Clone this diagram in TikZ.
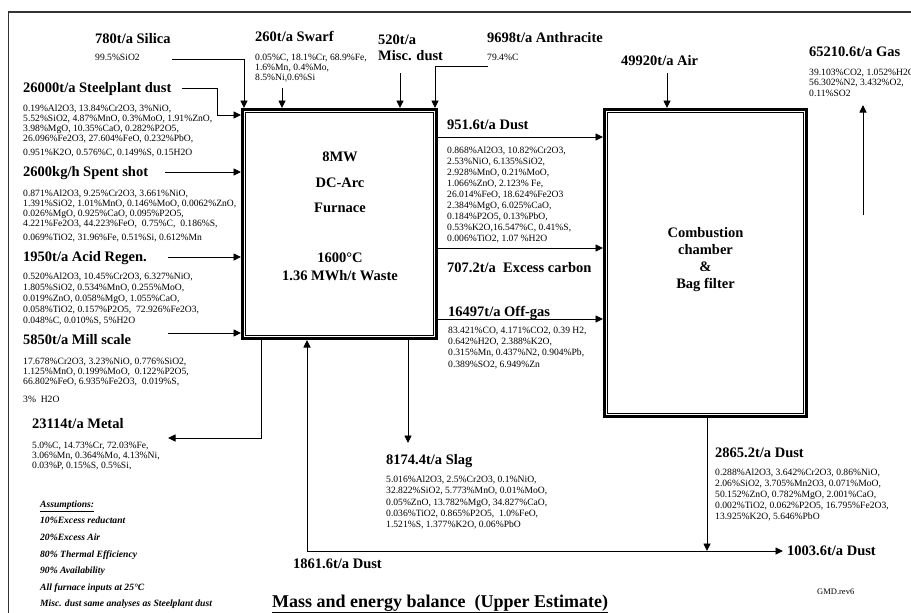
\documentclass[tikz,border=0pt]{standalone}
\usepackage{fontspec}
\setmainfont{Liberation Serif}
\usetikzlibrary{arrows.meta}
\tikzset{
  ttl/.style={font=\fontsize{14.5}{15.5}\selectfont\bfseries, anchor=base west, inner sep=0pt},
  ftxt/.style={font=\fontsize{14.5}{15.5}\selectfont\bfseries, anchor=base, inner sep=0pt},
  comp/.style={font=\fontsize{9.6}{#1}\selectfont, anchor=north west, align=left, inner sep=0pt},
  comp/.default=10.5,
  asm/.style={font=\fontsize{9.6}{16.6}\selectfont\bfseries\itshape, anchor=north west, align=left, inner sep=0pt},
  boxo/.style={draw, line width=2.6pt, inner sep=0pt},
  boxi/.style={draw, line width=0.8pt, inner sep=0pt},
  flow/.style={draw, line width=0.9pt, -{Triangle[length=7.5pt,width=7pt]}},
}
\begin{document}
\begin{tikzpicture}[x=1pt,y=-1pt]
\useasboundingbox (0,0) rectangle (911,613);
\fill[white] (0,0) rectangle (911,613);
% outer frame
\coordinate (frA) at (911,12);
\coordinate (frB) at (8.5,12);
\coordinate (frC) at (8.5,613);
\draw[line width=1.2pt, black!80] (frA) -- (frB) -- (frC);

% boxes
\node[boxo, minimum width=194.4, minimum height=229.4] (furn) at (339.5,224) {};
\node[boxi, minimum width=187.6, minimum height=222.6] (furnin) at (339.5,224) {};
\node[boxo, minimum width=202.4, minimum height=307.4] (comb) at (705.5,263) {};
\node[boxi, minimum width=195.6, minimum height=300.6] (combin) at (705.5,263) {};

% furnace text
\node[ftxt] (f1) at (340,161.9) {8MW};
\node[ftxt] (f2) at (340,187.9) {DC-Arc};
\node[ftxt] (f3) at (340,212.9) {Furnace};
\node[ftxt] (f4) at (340,262.9) {1600°C};
\node[ftxt] (f5) at (340,280.9) {1.36 MWh/t Waste};

% combustion text
\node[ftxt] (c1) at (705.5,237) {Combustion};
\node[ftxt] (c2) at (705.5,254) {chamber};
\node[ftxt] (c3) at (705.5,271) {\&};
\node[ftxt] (c4) at (705.5,288) {Bag filter};

% inputs
\node[ttl] (silT) at (95,43.9) {780t/a Silica};
\node[comp, anchor=base west] (silC) at (95,60.3) {99.5\%SiO2};
\node[ttl] (stlT) at (23,92.9) {26000t/a Steelplant dust};
\node[comp=10] (stlC) at (23,104.8) {0.19\%Al2O3, 13.84\%Cr2O3, 3\%NiO,\\
5.52\%SiO2, 4.87\%MnO, 0.3\%MoO, 1.91\%ZnO,\\
3.98\%MgO, 10.35\%CaO, 0.282\%P2O5,\\
26.096\%Fe2O3, 27.604\%FeO, 0.232\%PbO,\\[4pt]
0.951\%K2O, 0.576\%C, 0.149\%S, 0.15H2O};
\node[ttl] (swfT) at (255,41.9) {260t/a Swarf};
\node[comp=10] (swfC) at (255,53.8) {0.05\%C, 18.1\%Cr, 68.9\%Fe,\\
1.6\%Mn, 0.4\%Mo,\\
8.5\%Ni,0.6\%Si};
\node[ttl, anchor=north west, align=left, font=\fontsize{14.5}{15.5}\selectfont\bfseries] (miscT) at (378,34.9) {520t/a\\Misc. dust};
\node[ttl] (antT) at (487,42.9) {9698t/a Anthracite};
\node[comp, anchor=base west] (antC) at (487,60.3) {79.4\%C};
\node[ttl] (shotT) at (23,176.9) {2600kg/h Spent shot};
\node[comp=10] (shotC) at (23,189.8) {0.871\%Al2O3, 9.25\%Cr2O3, 3.661\%NiO,\\
1.391\%SiO2, 1.01\%MnO, 0.146\%MoO, 0.0062\%ZnO,\\
0.026\%MgO, 0.925\%CaO, 0.095\%P2O5,\\
4.221\%Fe2O3, 44.223\%FeO,~ 0.75\%C,~ 0.186\%S,\\[4pt]
0.069\%TiO2, 31.96\%Fe, 0.51\%Si, 0.612\%Mn};
\node[ttl] (acidT) at (23,261.9) {1950t/a Acid Regen.};
\node[comp=11] (acidC) at (23,272.8) {0.520\%Al2O3, 10.45\%Cr2O3, 6.327\%NiO,\\
1.805\%SiO2, 0.534\%MnO, 0.255\%MoO,\\
0.019\%ZnO, 0.058\%MgO, 1.055\%CaO,\\
0.058\%TiO2, 0.157\%P2O5,~ 72.926\%Fe2O3,\\
0.048\%C, 0.010\%S, 5\%H2O};
\node[ttl] (millT) at (23,344.9) {5850t/a Mill scale};
\node[comp=10] (millC) at (23,357.8) {17.678\%Cr2O3, 3.23\%NiO, 0.776\%SiO2,\\
1.125\%MnO, 0.199\%MoO,~ 0.122\%P2O5,\\
66.802\%FeO, 6.935\%Fe2O3,~ 0.019\%S,\\[8pt]
3\%~ H2O};
\node[ttl] (metT) at (32,428.9) {23114t/a Metal};
\node[comp=10] (metC) at (32,441.8) {5.0\%C, 14.73\%Cr, 72.03\%Fe,\\
3.06\%Mn, 0.364\%Mo, 4.13\%Ni,\\
0.03\%P, 0.15\%S, 0.5\%Si,};
\node[asm] (asmT) at (40,500.5) {\underline{Assumptions:}\\
10\%Excess reductant\\
20\%Excess Air\\
80\% Thermal Efficiency\\
90\% Availability\\
All furnace inputs at 25°C\\
Misc. dust same analyses as Steelplant dust};

% furnace outputs
\node[ttl] (d1T) at (447,129.9) {951.6t/a Dust};
\node[comp=11] (d1C) at (447,146.8) {0.868\%Al2O3, 10.82\%Cr2O3,\\
2.53\%NiO, 6.135\%SiO2,\\
2.928\%MnO, 0.21\%MoO,\\
1.066\%ZnO, 2.123\% Fe,\\
26.014\%FeO, 18.624\%Fe2O3\\
2.384\%MgO, 6.025\%CaO,\\
0.184\%P2O5, 0.13\%PbO,\\
0.53\%K2O,16.547\%C, 0.41\%S,\\
0.006\%TiO2, 1.07 \%H2O};
\node[ttl] (exT) at (447,272.9) {707.2t/a~ Excess carbon};
\node[ttl] (offT) at (448,316.9) {16497t/a Off-gas};
\node[comp=11.3] (offC) at (448,326.8) {83.421\%CO, 4.171\%CO2, 0.39 H2,\\
0.642\%H2O, 2.388\%K2O,\\
0.315\%Mn, 0.437\%N2, 0.904\%Pb,\\
0.389\%SO2, 6.949\%Zn};
\node[ttl] (slagT) at (386,464.9) {8174.4t/a Slag};
\node[comp=11.2] (slagC) at (386,475.8) {5.016\%Al2O3, 2.5\%Cr2O3, 0.1\%NiO,\\
32.822\%SiO2, 5.773\%MnO, 0.01\%MoO,\\
0.05\%ZnO, 13.782\%MgO, 34.827\%CaO,\\
0.036\%TiO2, 0.865\%P2O5,~ 1.0\%FeO,\\
1.521\%S, 1.377\%K2O, 0.06\%PbO};
\node[ttl] (recT) at (293,568.9) {1861.6t/a Dust};

% combustion in/out
\node[ttl] (airT) at (621,65.9) {49920t/a Air};
\node[ttl] (gasT) at (809,56.9) {65210.6t/a Gas};
\node[comp=10.5] (gasC) at (809,68.8) {39.103\%CO2, 1.052\%H2O\\
56.302\%N2, 3.432\%O2,\\
0.11\%SO2};
\node[ttl] (bagT) at (715,457.9) {2865.2t/a Dust};
\node[comp=11] (bagC) at (715,468.8) {0.288\%Al2O3, 3.642\%Cr2O3, 0.86\%NiO,\\
2.06\%SiO2, 3.705\%Mn2O3, 0.071\%MoO,\\
50.152\%ZnO, 0.782\%MgO, 2.001\%CaO,\\
0.002\%TiO2, 0.062\%P2O5, 16.795\%Fe2O3,\\
13.925\%K2O, 5.646\%PbO};
\node[ttl] (outT) at (787,555.9) {1003.6t/a Dust};

% title and tag
\node[ttl, font=\fontsize{18}{20}\selectfont\bfseries] (title) at (272,607) {\underline{Mass and energy balance~ (Upper Estimate)}};
\node[comp, anchor=base west, font=\fontsize{8.5}{10}\selectfont] (tag) at (817,594) {GMD.rev6};

% connectors: inputs
\coordinate (silS) at (172,59);
\draw[flow] (silS) -| ([xshift=3pt]furn.north west);
\coordinate (stlS) at (182,88);
\coordinate (stlK) at (217,88);
\coordinate (stlY) at (0,115);
\draw[flow] (stlS) -- (stlK) |- (furn.west |- stlY);
\coordinate (swfS) at (282,88);
\draw[flow] (swfS) -- (swfS |- furn.north);
\coordinate (miscS) at (400,73);
\draw[flow] (miscS) -- (miscS |- furn.north);
\coordinate (antS) at (488,66);
\draw[flow] (antS) -| ([xshift=-3pt]furn.north east);
\coordinate (shotS) at (165,172);
\draw[flow] (shotS) -- (shotS -| furn.west);
\coordinate (acidS) at (168,257);
\draw[flow] (acidS) -- (acidS -| furn.west);
\coordinate (millS) at (168,333);
\draw[flow] (millS) -- (millS -| furn.west);

% furnace outputs
\coordinate (metE) at (168,438);
\coordinate (metX) at (261,0);
\draw[flow] (metX |- furn.south) |- (metE);
\coordinate (slagE) at (408,443);
\draw[flow] (slagE |- furn.south) -- (slagE);
\coordinate (y1) at (0,137);
\coordinate (y2) at (0,248);
\coordinate (y3) at (0,319);
\draw[flow] (furn.east |- y1) -- (comb.west |- y1);
\draw[flow] (furn.east |- y2) -- (comb.west |- y2);
\draw[flow] (furn.east |- y3) -- (comb.west |- y3);

% combustion
\coordinate (airS) at (667,73);
\draw[flow] (airS) -- (airS |- comb.north);
\coordinate (gasS) at (863,215);
\coordinate (gasE) at (863,105);
\draw[flow] (gasS) -- (gasE);
\coordinate (junc) at (707,551);
\coordinate (dustE) at (783,551);
\coordinate (recX) at (307,551);
\draw[flow] (junc |- comb.south) -- (junc);
\draw[flow] (recX) -- (dustE);
\draw[flow] (recX) -- (recX |- furn.south);
\end{tikzpicture}
\end{document}
